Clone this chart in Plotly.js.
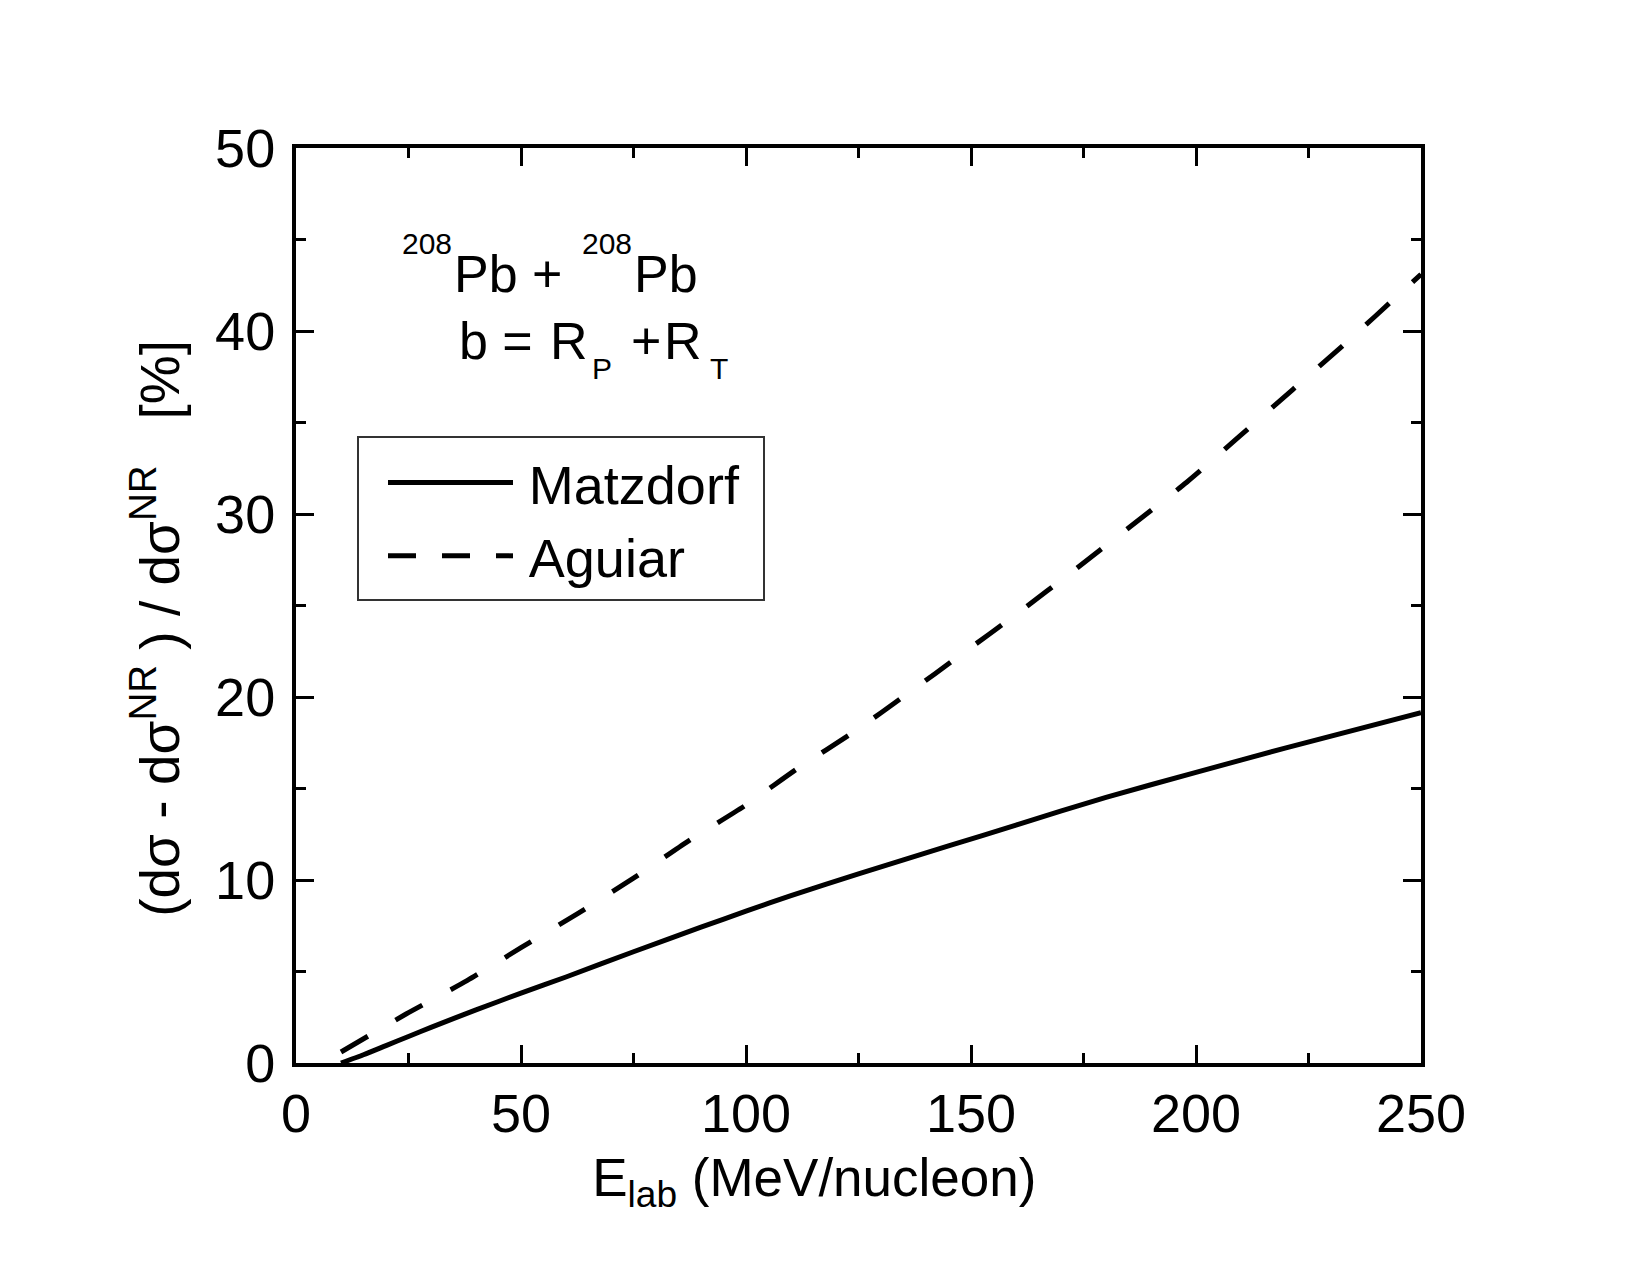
<!DOCTYPE html>
<html>
<head>
<meta charset="utf-8">
<script src="https://cdn.plot.ly/plotly-3.0.1.min.js"></script>
<style>
  html, body { margin: 0; padding: 0; background: #ffffff; }
  #chart { width: 1650px; height: 1275px; }
</style>
</head>
<body>
<div id="chart"></div>
<script>
// ---- data ----
const matzdorfE = [10, 15, 20, 25, 30, 40, 50, 60, 75, 90, 100, 110, 125, 145, 160, 180, 200, 220, 250];
const matzdorfDev = [0, 0.45, 0.95, 1.45, 1.95, 2.9, 3.82, 4.7, 6.08, 7.42, 8.3, 9.15, 10.33, 11.86, 13.0, 14.52, 15.88, 17.22, 19.14];

const aguiarE = [10, 25, 38, 50, 62.5, 75, 87, 100, 111.5, 124, 136, 148, 160.5, 172.5, 198, 209, 221.5, 234, 246, 250];
const aguiarDev = [0.6, 2.75, 4.5, 6.3, 8.15, 10.1, 12.1, 14.1, 16.1, 18.1, 20.2, 22.35, 24.6, 26.85, 31.75, 34.1, 36.8, 39.5, 42.2, 43.1];

const seriesNames = ['Matzdorf', 'Aguiar'];
const xTickVals = [0, 50, 100, 150, 200, 250];
const yTickVals = [0, 10, 20, 30, 40, 50];

// ---- geometry of the plot area (pixels) ----
const W = 1650, H = 1275;
const PL = 296, PR = 1421, PT = 148, PB = 1063;
const FONT = 'Liberation Sans, Arial, Helvetica, sans-serif';

function px2paperX(px) { return (px - PL) / (PR - PL); }
function px2paperY(py) { return (PB - py) / (PB - PT); }

// text pieces of the inset label: [text, left px, baseline px, size]
const labelPieces = [
  ['208', 401, 255, 30],
  ['Pb +', 453, 293, 52],
  ['208', 581, 255, 30],
  ['Pb', 633, 293, 52],
  ['b =', 458, 360, 52],
  ['R', 549, 360, 52],
  ['P', 591, 380, 30],
  ['+', 630, 360, 52],
  ['R', 663, 360, 52],
  ['T', 709, 380, 30]
];

const annotations = labelPieces.map(p => ({
  text: p[0],
  xref: 'paper', yref: 'paper',
  x: px2paperX(p[1] - 1),
  y: px2paperY(p[2] + 0.212 * p[3] + 1),
  xanchor: 'left', yanchor: 'bottom',
  showarrow: false,
  font: { family: FONT, size: p[3], color: '#000' }
}));

const traces = [
  {
    x: matzdorfE, y: matzdorfDev, name: '\u2009' + seriesNames[0],
    type: 'scatter', mode: 'lines',
    line: { color: '#000', width: 5, dash: 'solid', shape: 'spline', smoothing: 0.6 }
  },
  {
    x: aguiarE, y: aguiarDev, name: '\u2009' + seriesNames[1],
    type: 'scatter', mode: 'lines', showlegend: false, legendgroup: 'aguiar',
    line: { color: '#000', width: 5, dash: '31px,32px', shape: 'spline', smoothing: 0.6 }
  },
  {
    // legend key only (the legend sample of this series uses a shorter dash)
    x: [null], y: [null], name: '\u2009' + seriesNames[1],
    type: 'scatter', mode: 'lines', legendgroup: 'aguiar', hoverinfo: 'skip',
    line: { color: '#000', width: 5, dash: '28px,26px' }
  }
];

const axisCommon = {
  showline: true, linecolor: '#000', linewidth: 4,
  mirror: 'ticks',
  ticks: 'inside', ticklen: 18, tickwidth: 3, tickcolor: '#000',
  showgrid: false, zeroline: false,
  tickfont: { family: FONT, size: 54, color: '#000' },
  minor: { ticks: 'inside', ticklen: 10, tickwidth: 3, tickcolor: '#000', showgrid: false }
};

const layout = {
  width: W, height: H,
  paper_bgcolor: '#fff', plot_bgcolor: '#fff',
  margin: { l: PL, r: W - PR, t: PT, b: H - PB, pad: 0 },
  showlegend: true,
  legend: {
    x: px2paperX(383), y: px2paperY(441), xanchor: 'left', yanchor: 'top',
    bgcolor: 'rgba(0,0,0,0)', borderwidth: 0,
    font: { family: FONT, size: 54, color: '#000' },
    itemwidth: 125, tracegroupgap: 0
  },
  shapes: [{
    type: 'rect', xref: 'paper', yref: 'paper', layer: 'below',
    x0: px2paperX(358), x1: px2paperX(764), y0: px2paperY(600), y1: px2paperY(437),
    line: { color: '#333', width: 2 }, fillcolor: '#fff'
  }],
  xaxis: Object.assign({}, axisCommon, {
    range: [0, 250], tickvals: xTickVals, ticktext: xTickVals.map(String),
    minor: Object.assign({}, axisCommon.minor, { tickvals: [25, 75, 125, 175, 225] }),
    title: { text: 'E<sub>lab</sub> (MeV/nucleon)&nbsp;&nbsp;&nbsp;&nbsp;&nbsp;&nbsp;', standoff: 18,
             font: { family: FONT, size: 53, color: '#000' } }
  }),
  yaxis: Object.assign({}, axisCommon, {
    range: [0, 50], tickvals: yTickVals, ticktext: yTickVals.map(String),
    ticklabelstandoff: 6,
    minor: Object.assign({}, axisCommon.minor, { tickvals: [5, 15, 25, 35, 45] }),
    title: { text: '(dσ - dσ<sup>NR</sup> ) / dσ<sup>NR</sup>&nbsp;&nbsp;&nbsp;[%]&nbsp;&nbsp;&nbsp;', standoff: 19,
             font: { family: FONT, size: 55, color: '#000' } }
  }),
  annotations: annotations
};

Plotly.newPlot('chart', traces, layout, { staticPlot: true, displayModeBar: false });
</script>
</body>
</html>
